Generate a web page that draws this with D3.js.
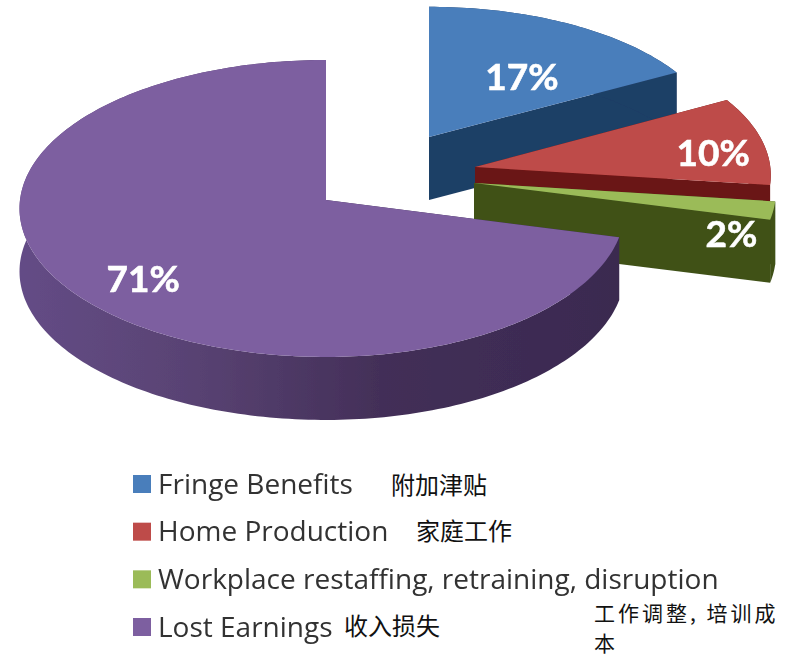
<!DOCTYPE html>
<html>
<head>
<meta charset="utf-8">
<style>
  html, body { margin: 0; padding: 0; background: #fff; }
  svg { display: block; }
</style>
<script src="https://cdn.jsdelivr.net/npm/d3@7"></script>
</head>
<body>
<div id="chart"></div>
<script>
// data
const categories = ["Fringe Benefits", "Home Production", "Workplace restaffing, retraining, disruption", "Lost Earnings"];
const shares = [17, 10, 2, 71];
const pctLabels = ["17%", "10%", "2%", "71%"];
const cnLabels = ["附加津贴", "家庭工作", "工作调整, 培训成本", "收入损失"];

const topColors = ["#4a7ebb", "#be4b48", "#9bbb59", "#7d5fa0"];
const cutColors = ["#1f3f66", "#6a1414", "#3f5119", "#3a2a50"];

const width = 792, height = 658;

// where each exploded slice sits. s = how far back it is in the fake perspective
const sliceGeo = [
    {cx: 429, cy: 137, s: 0.93, right: 1.02, labelR: 0.66, labelDy: 15},
    {cx: 475, cy: 167, s: 0.965, right: 1, labelR: 0.83, labelDy: 8},
    {cx: 474, cy: 183, s: 0.985, right: 1, labelR: 0.86, labelDy: 27},
    {cx: 326, cy: 200, s: 1.0, right: 0.975, labelR: 0.73, labelDy: 10}
];
const rx = 306, ry = 148, persp = 0.057, depth = 63;

const svg = d3.select("#chart").append("svg")
    .attr("width", width)
    .attr("height", height);

const defs = svg.append("defs");

// the reference is a soft jpeg
defs.append("filter")
    .attr("id", "soft")
    .append("feGaussianBlur")
    .attr("stdDeviation", 0.5);

const wallGrad = defs.append("linearGradient")
    .attr("id", "purpleWall")
    .attr("gradientUnits", "userSpaceOnUse")
    .attr("x1", 20).attr("x2", 620).attr("y1", 0).attr("y2", 0);
wallGrad.append("stop").attr("offset", "0").attr("stop-color", "#644c86");
wallGrad.append("stop").attr("offset", "0.3").attr("stop-color", "#584272");
wallGrad.append("stop").attr("offset", "0.6").attr("stop-color", "#432f58");
wallGrad.append("stop").attr("offset", "1").attr("stop-color", "#3a2a50");

const pie = d3.pie().sort(null).value(d => d);
const arcs = pie(shares);

// angle -> flat position on the tilted disc
function project(geo, a, r) {
    const p = 1 / (1 + persp * Math.cos(a));
    const sx = Math.sin(a) > 0 ? geo.right : 1;
    return [
        geo.cx + r * rx * geo.s * sx * Math.sin(a) * p,
        geo.cy - r * ry * geo.s * Math.cos(a) * p
    ];
}

function rim(geo, a0, a1) {
    const n = Math.max(2, Math.ceil((a1 - a0) / 0.02));
    return d3.range(n + 1).map(i => project(geo, a0 + (a1 - a0) * i / n, 1));
}

const line = d3.line();
const root = svg.append("g").attr("filter", "url(#soft)");
const g = root.append("g");

arcs.forEach((d, i) => {
    const geo = sliceGeo[i];
    const edge = rim(geo, d.startAngle, d.endAngle);
    const apex = [geo.cx, geo.cy];
    const down = pt => [pt[0], pt[1] + depth];
    const slice = g.append("g");

    // the two cut faces
    [edge[0], edge[edge.length - 1]].forEach(pt => {
        slice.append("path")
            .attr("d", line([apex, pt, down(pt), down(apex)]) + "Z")
            .attr("fill", cutColors[i]);
    });

    // outer wall
    slice.append("path")
        .attr("d", line(edge.concat(edge.map(down).reverse())) + "Z")
        .attr("fill", i === 3 ? "url(#purpleWall)" : cutColors[i]);

    // top face
    slice.append("path")
        .attr("d", line([apex].concat(edge)) + "Z")
        .attr("fill", topColors[i]);
});

// percent labels
g.selectAll("text.pct")
    .data(arcs)
    .join("text")
    .attr("class", "pct")
    .attr("x", (d, i) => project(sliceGeo[i], (d.startAngle + d.endAngle) / 2, sliceGeo[i].labelR)[0])
    .attr("y", (d, i) => project(sliceGeo[i], (d.startAngle + d.endAngle) / 2, sliceGeo[i].labelR)[1] + sliceGeo[i].labelDy)
    .attr("dy", "0.35em")
    .attr("text-anchor", "middle")
    .attr("font-family", "Lato, sans-serif")
    .attr("font-weight", "bold")
    .attr("font-size", 37)
    .attr("fill", "#fff")
    .attr("stroke", "#fff")
    .attr("stroke-width", 0.6)
    .text((d, i) => pctLabels[i]);

// legend
const legendY = d3.scalePoint().domain(categories).range([484, 627]);

const legend = root.append("g");
legend.selectAll("rect")
    .data(categories)
    .join("rect")
    .attr("x", 133)
    .attr("y", d => legendY(d) - 9)
    .attr("width", 18)
    .attr("height", 18)
    .attr("fill", (d, i) => topColors[i]);

legend.selectAll("text")
    .data(categories)
    .join("text")
    .attr("x", 158)
    .attr("y", d => legendY(d))
    .attr("dy", "0.35em")
    .attr("font-family", "'Open Sans', sans-serif")
    .attr("font-size", 28)
    .attr("fill", "#333")
    .text(d => d);

// chinese notes pasted next to the legend
const cnPlace = [
    {x: 391, y: 485, wrap: 4, size: 24, gap: 0, track: 0},
    {x: 416, y: 531, wrap: 4, size: 24, gap: 0, track: 0},
    {x: 594, y: 613, wrap: 9, size: 21, gap: 30.5, track: 3},
    {x: 344, y: 626, wrap: 4, size: 24, gap: 0, track: 0}
];
cnLabels.forEach((t, i) => {
    const p = cnPlace[i];
    const rows = [t.slice(0, p.wrap), t.slice(p.wrap)].filter(r => r.length);
    rows.forEach((r, j) => {
        svg.append("text")
            .attr("x", p.x)
            .attr("y", p.y + j * p.gap)
            .attr("dy", "0.36em")
            .attr("font-family", "'Noto Sans CJK SC', sans-serif")
            .attr("font-size", p.size)
            .attr("letter-spacing", p.track)
            .attr("fill", "#111")
            .text(r);
    });
});
</script>
</body>
</html>
